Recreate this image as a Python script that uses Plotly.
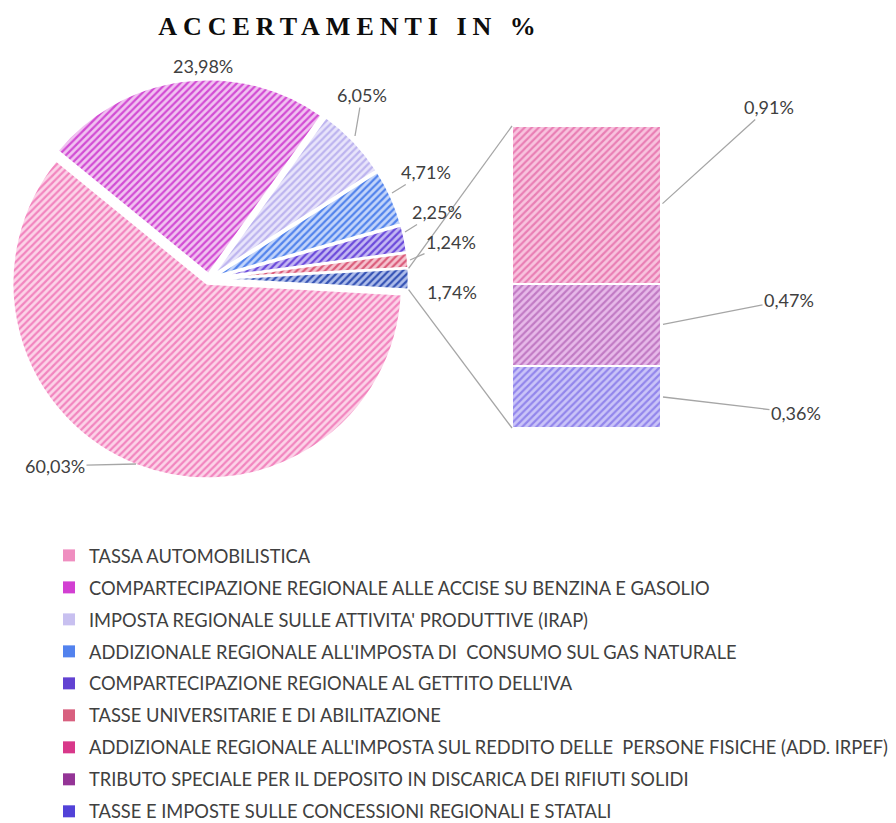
import math
import plotly.graph_objects as go

# the page body adds an 8px margin, so the figure is placed at (8, 8);
# it is made a little taller than the window so the legend is not clipped
OFF = 8
W, H = 896 - OFF, 840

# ---------------- data ----------------
pie_labels = [
    "TASSA AUTOMOBILISTICA",
    "COMPARTECIPAZIONE REGIONALE ALLE ACCISE SU BENZINA E GASOLIO",
    "IMPOSTA REGIONALE SULLE ATTIVITA' PRODUTTIVE (IRAP)",
    "ADDIZIONALE REGIONALE ALL'IMPOSTA DI  CONSUMO SUL GAS NATURALE",
    "COMPARTECIPAZIONE REGIONALE AL GETTITO DELL'IVA",
    "TASSE UNIVERSITARIE E DI ABILITAZIONE",
]
pie_values = [60.03, 23.98, 6.05, 4.71, 2.25, 1.24]

bar_labels = [
    "ADDIZIONALE REGIONALE ALL'IMPOSTA SUL REDDITO DELLE  PERSONE FISICHE (ADD. IRPEF)",
    "TRIBUTO SPECIALE PER IL DEPOSITO IN DISCARICA DEI RIFIUTI SOLIDI",
    "TASSE E IMPOSTE SULLE CONCESSIONI REGIONALI E STATALI",
]
bar_values = [0.91, 0.47, 0.36]
other_label = "Altro"
other_value = round(sum(bar_values), 2)

# colours (background / hatch / legend)
pie_bg = ["#FCD3E8", "#F1C2F1", "#E8E4FB", "#C3D5FA", "#C4B8F3", "#F5C3CF", "#AEBDEA"]
pie_fg = ["#F285BF", "#D24CD4", "#BDB4EF", "#5283EC", "#6B4ADB", "#DB5C7B", "#3553B5"]
bar_bg = ["#F8C3DE", "#E7B9E9", "#CAC4F8"]
bar_fg = ["#DA3A8A", "#9B3C9F", "#5A47E0"]
legend_cols = ["#EF8EC0", "#D23FD2", "#C8C0F0", "#5282EE", "#6242D2",
               "#D8607F", "#D8388A", "#943496", "#5242D8"]

title_text = "ACCERTAMENTI IN %"


def fmt(v):
    return f"{v:.2f}%".replace(".", ",")


def px(x):
    return min(max((x - OFF) / W, 0), 1)


def py(y):
    return min(max(1 - (y - OFF) / H, 0), 1)


fig = go.Figure()

# ---------------- pie ----------------
pull = 0.025
cx, cy, r = 209, 279, 195           # screen geometry of pie
R = r * (1 + pull)
rotation = 90 + other_value / 2 * 3.6

fig.add_trace(go.Pie(
    labels=pie_labels + [other_label],
    values=pie_values + [other_value],
    sort=False,
    direction="clockwise",
    rotation=rotation,
    pull=[pull] * 7,
    textinfo="none",
    hoverinfo="label+value",
    showlegend=False,
    domain=dict(x=[px(cx - R), px(cx + R)], y=[py(cy + R), py(cy - R)]),
    marker=dict(
        colors=pie_bg,
        line=dict(color="white", width=2.5),
        pattern=dict(shape="/", fgcolor=pie_fg, bgcolor=pie_bg,
                     size=5, solidity=0.45),
    ),
))

# ---------------- stacked bar ----------------
bx0, bx1, by0, by1 = 512, 661, 126, 428   # screen box of the bar
for lab, val, bg, fg in reversed(list(zip(bar_labels, bar_values, bar_bg, bar_fg))):
    fig.add_trace(go.Bar(
        x=[0], y=[val], name=lab, width=1, showlegend=False,
        marker=dict(color=bg, line=dict(color="white", width=2),
                    pattern=dict(shape="/", fgcolor=fg, bgcolor=bg,
                                 size=5, solidity=0.45)),
        hoverinfo="name+y",
    ))

# legend entries
for lab, col in zip(pie_labels + bar_labels, legend_cols):
    fig.add_trace(go.Scatter(
        x=[None], y=[None], mode="markers", name=lab, legendgroup=lab,
        marker=dict(symbol="square", size=7, color=col),
    ))

annotations = []
lab_font = dict(family="Lato, 'Open Sans', sans-serif", size=18, color="#404040")
grey = "#A6A6A6"

# pie labels: (text centre, arrow tip or None) in screen pixels
pie_lab_pos = [
    ((55, 466), (136, 464)),
    ((171, 53), None),
    ((362, 95), (355, 136)),
    ((426, 172), (392, 193)),
    ((437, 212), (405, 232)),
    ((451, 242), (410, 260)),
    ((452, 279), None),
]
for v, (tp, tip) in zip(pie_values + [other_value], pie_lab_pos):
    if tip is None:
        annotations.append(dict(x=px(tp[0]), y=py(tp[1]), xref="paper", yref="paper",
                                text=fmt(v), showarrow=False, font=lab_font))
    else:
        annotations.append(dict(x=px(tip[0]), y=py(tip[1]), xref="paper", yref="paper",
                                ax=tp[0] - tip[0], ay=tp[1] - tip[1],
                                text=fmt(v), showarrow=True, arrowhead=0,
                                arrowwidth=1.3, arrowcolor=grey, standoff=0,
                                font=lab_font))

# bar labels (tip at right edge, middle of segment)
bar_lab_off = [(108, -98), (128, -25), (135, 16)]
bottoms = {}
acc = 0
for i in range(len(bar_values) - 1, -1, -1):
    bottoms[i] = acc
    acc += bar_values[i]
for i, (v, off) in enumerate(zip(bar_values, bar_lab_off)):
    annotations.append(dict(x=0.5, y=bottoms[i] + v / 2, xref="x", yref="y",
                            ax=off[0], ay=off[1], text=fmt(v), showarrow=True,
                            arrowhead=0, arrowwidth=1.3, arrowcolor=grey,
                            standoff=2, font=lab_font))

# connector lines from the "other" slice to the bar
half = math.radians(other_value / 2 * 3.6)
ox = cx + r * math.cos(half) + pull * r
shapes = [
    dict(type="line", xref="paper", yref="paper",
         x0=px(ox), y0=py(cy - r * math.sin(half)), x1=px(bx0), y1=py(by0),
         line=dict(color=grey, width=1.3)),
    dict(type="line", xref="paper", yref="paper",
         x0=px(ox), y0=py(cy + r * math.sin(half)), x1=px(bx0), y1=py(by1),
         line=dict(color=grey, width=1.3)),
]

fig.update_layout(
    width=W, height=H,
    margin=dict(l=0, r=0, t=0, b=0, autoexpand=False),
    paper_bgcolor="white", plot_bgcolor="white",
    barmode="stack", bargap=0,
    title=dict(text=f"<b><span style='letter-spacing:6px'>{title_text}</span></b>",
               x=px(350), xanchor="center", y=py(26), yanchor="middle",
               font=dict(family="'Liberation Serif', 'DejaVu Serif', serif", size=26,
                         color="#0D0D0D")),
    xaxis=dict(domain=[px(bx0), px(bx1)], range=[-0.5, 0.5], visible=False, fixedrange=True),
    yaxis=dict(domain=[py(by1), py(by0)], range=[0, other_value], visible=False, fixedrange=True),
    showlegend=True,
    legend=dict(x=px(49), y=py(537), xanchor="left", yanchor="top",
                font=dict(family="Lato, 'Open Sans', sans-serif", size=18.3, color="#404040"),
                tracegroupgap=5.2, itemsizing="constant", bgcolor="rgba(0,0,0,0)"),
    annotations=annotations,
    shapes=shapes,
)

fig.write_html("out.html")
